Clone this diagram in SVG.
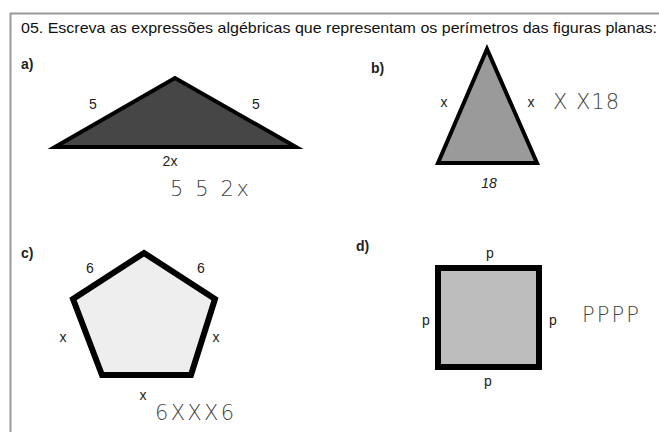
<svg xmlns="http://www.w3.org/2000/svg" width="659" height="432" viewBox="0 0 659 432">
<style>
.lbl{font-family:"Liberation Sans",Arial,sans-serif;font-size:14px;fill:#222;}
.hd{font-family:"Liberation Sans",Arial,sans-serif;font-size:14px;font-weight:bold;fill:#222;}
.hand{font-family:"DejaVu Sans",sans-serif;font-weight:200;font-size:21px;fill:#444;letter-spacing:1px;}
.title{font-family:"Liberation Sans",Arial,sans-serif;font-size:14.5px;fill:#111;}
.shape{stroke:#000;stroke-linejoin:miter;}
</style>
<rect width="659" height="432" fill="#fff"/>
<path d="M10.5 432 V13.5 H659" fill="none" stroke="#999" stroke-width="2"/>
<text class="title" x="21" y="33" textLength="636" lengthAdjust="spacingAndGlyphs">05. Escreva as expressões algébricas que representam os perímetros das figuras planas:</text>
<g id="a">
<text class="hd" x="21" y="69">a)</text>
<polygon class="shape" points="55,147 175,78 296,147" fill="#464646" stroke-width="4"/>
<text class="lbl" x="93" y="109" text-anchor="middle">5</text>
<text class="lbl" x="256" y="109" text-anchor="middle">5</text>
<text class="lbl" x="170" y="166" text-anchor="middle">2x</text>
<text class="hand" x="170" y="196" textLength="80" lengthAdjust="spacing">5 5 2x</text>
</g>
<g id="b">
<text class="hd" x="371" y="73">b)</text>
<polygon class="shape" points="487,49 438,163 537,163" fill="#9a9a9a" stroke-width="4"/>
<text class="lbl" x="444" y="107" text-anchor="middle">x</text>
<text class="lbl" x="531" y="107" text-anchor="middle">x</text>
<text class="lbl" x="489" y="188" text-anchor="middle" font-style="italic">18</text>
<text class="hand" x="553" y="109" fill="#666" textLength="67" lengthAdjust="spacing">X X18</text>
</g>
<g id="c">
<text class="hd" x="21" y="258">c)</text>
<polygon class="shape" points="144,253 215,299 191,375 102,375 73,299" fill="#eeeeee" stroke-width="6"/>
<text class="lbl" x="90" y="273" text-anchor="middle">6</text>
<text class="lbl" x="201" y="273" text-anchor="middle">6</text>
<text class="lbl" x="63" y="342" text-anchor="middle">x</text>
<text class="lbl" x="216" y="342" text-anchor="middle">x</text>
<text class="lbl" x="143" y="400" text-anchor="middle">x</text>
<text class="hand" x="155" y="420" textLength="80" lengthAdjust="spacing">6XXX6</text>
</g>
<g id="d">
<text class="hd" x="356" y="251">d)</text>
<rect class="shape" x="438" y="268" width="101" height="99" fill="#bdbdbd" stroke-width="6"/>
<text class="lbl" x="490" y="258" text-anchor="middle">p</text>
<text class="lbl" x="426" y="325" text-anchor="middle">p</text>
<text class="lbl" x="553" y="325" text-anchor="middle">p</text>
<text class="lbl" x="488" y="386" text-anchor="middle">p</text>
<text class="hand" x="582" y="322" fill="#666" textLength="58" lengthAdjust="spacing">PPPP</text>
</g>
</svg>
